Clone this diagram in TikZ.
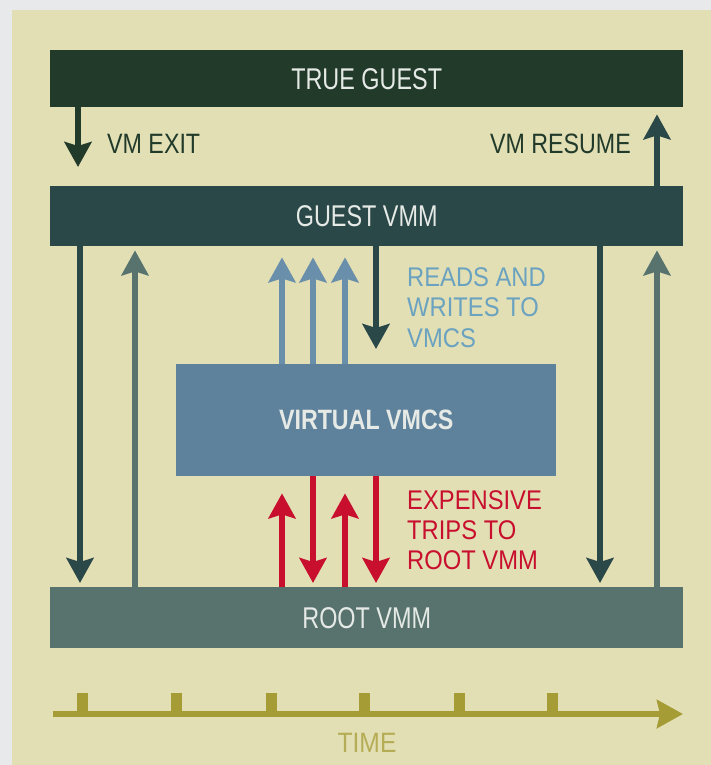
\documentclass[tikz,border=0pt]{standalone}
\usepackage{fontspec}
\setmainfont{Liberation Sans}[FakeStretch=0.85]
\newfontfamily\narrowA{Liberation Sans}[FakeStretch=0.78]
\newfontfamily\narrowB{Liberation Sans}[FakeStretch=0.83]
\newfontfamily\narrowC{Liberation Sans}[FakeStretch=0.88]
\usetikzlibrary{arrows.meta}

\definecolor{frame}{HTML}{E8E9EB}
\definecolor{paper}{HTML}{E2DFB5}
\definecolor{trueg}{HTML}{213A2A}
\definecolor{guestv}{HTML}{2A4848}
\definecolor{rootv}{HTML}{58736E}
\definecolor{vmcs}{HTML}{5F829C}
\definecolor{vmcsarr}{HTML}{6A8FAA}
\definecolor{lblue}{HTML}{6AA2C0}
\definecolor{trip}{HTML}{C8102E}
\definecolor{olive}{HTML}{A69C36}
\definecolor{olivetxt}{HTML}{B5AD55}
\definecolor{boxtxt}{HTML}{E6EAE6}

\begin{document}
\begin{tikzpicture}[x=1pt,y=-1pt,
  layer/.style={fill=#1, draw=none, inner sep=0pt, anchor=north west,
    minimum width=633pt, minimum height=60pt, text=boxtxt,
    font=\narrowA\fontsize{30}{32}\selectfont},
  lbl/.style={inner sep=0pt, anchor=base west, text=#1,
    font=\narrowC\fontsize{27}{30}\selectfont},
  exitlabel/.style={inner sep=0pt, anchor=base west, text=trueg,
    font=\narrowB\fontsize{28}{30}\selectfont},
  arr/.style={draw=#1, line width=6pt,
    -{Stealth[length=25pt,width=27pt,inset=4pt]}},
  tick/.style={fill=olive, draw=none}
]
% canvas
\useasboundingbox (0,0) rectangle (711,765);
\fill[frame] (0,0) rectangle (711,765);
\fill[paper] (12,10) rectangle (711,765);

% layers
\node[layer=trueg, minimum height=57pt] (tg) at (50,50) {TRUE GUEST};
\node[layer=guestv] (gv) at (50,186) {GUEST VMM};
\node[layer=rootv, minimum height=61pt] (rv) at (50,587) {ROOT VMM};
\node[fill=vmcs, inner sep=0pt, anchor=north west, minimum width=380pt,
  minimum height=112pt, text=boxtxt,
  font=\narrowB\bfseries\fontsize{28}{30}\selectfont] (vv) at (176,364) {VIRTUAL VMCS};

% arrow columns
\coordinate (ca) at (78,0);
\coordinate (cb) at (80,0);
\coordinate (cc) at (135,0);
\coordinate (cd) at (600,0);
\coordinate (ce) at (657,0);
\coordinate (r1) at (282,0);
\coordinate (r2) at (313,0);
\coordinate (r3) at (345,0);
\coordinate (r4) at (376,0);
\coordinate (exitend) at (78,167);

% exit and resume
\draw[arr=trueg] (tg.south -| ca) -- (exitend);
\draw[arr=guestv, shorten >=7pt] (gv.north -| ce) -- (tg.south -| ce);
\node[exitlabel] (exitlbl) at (107,153) {VM EXIT};
\node[exitlabel, anchor=base east] (reslbl) at (631,153) {VM RESUME};

% guest vmm <-> root vmm
\draw[arr=guestv, shorten >=4pt] (gv.south -| cb) -- (rv.north -| cb);
\draw[arr=rootv, shorten >=4pt] (rv.north -| cc) -- (gv.south -| cc);
\draw[arr=guestv, shorten >=4pt] (gv.south -| cd) -- (rv.north -| cd);
\draw[arr=rootv, shorten >=4pt] (rv.north -| ce) -- (gv.south -| ce);

% reads and writes to the virtual vmcs
\foreach \c in {r1,r2,r3}
  \draw[arr=vmcsarr, shorten >=11pt] (vv.north -| \c) -- (gv.south -| \c);
\draw[arr=guestv, shorten >=15pt] (gv.south -| r4) -- (vv.north -| r4);
\node[lbl=lblue] (rw1) at (407,286) {READS AND};
\node[lbl=lblue] (rw2) at (407,316) {WRITES TO};
\node[lbl=lblue] (rw3) at (407,347) {VMCS};

% trips to the root vmm
\draw[arr=trip, shorten >=17pt] (rv.north -| r1) -- (vv.south -| r1);
\draw[arr=trip, shorten >=4pt] (vv.south -| r2) -- (rv.north -| r2);
\draw[arr=trip, shorten >=17pt] (rv.north -| r3) -- (vv.south -| r3);
\draw[arr=trip, shorten >=4pt] (vv.south -| r4) -- (rv.north -| r4);
\node[lbl=trip] (ex1) at (407,509) {EXPENSIVE};
\node[lbl=trip] (ex2) at (407,539) {TRIPS TO};
\node[lbl=trip] (ex3) at (407,569) {ROOT VMM};

% time axis
\coordinate (t0) at (53,714);
\coordinate (t1) at (683,714);
\foreach \x in {82,176,271,364,459,552}
  \fill[tick] (\x-5.5,693) rectangle (\x+5.5,714);
\draw[draw=olive, line width=6pt,
  -{Stealth[length=26pt,width=28pt,inset=3pt]}] (t0) -- (t1);
\node[inner sep=0pt, anchor=base, text=olivetxt,
  font=\narrowC\fontsize{28}{30}\selectfont] (time) at (367,752) {TIME};
\end{tikzpicture}
\end{document}
